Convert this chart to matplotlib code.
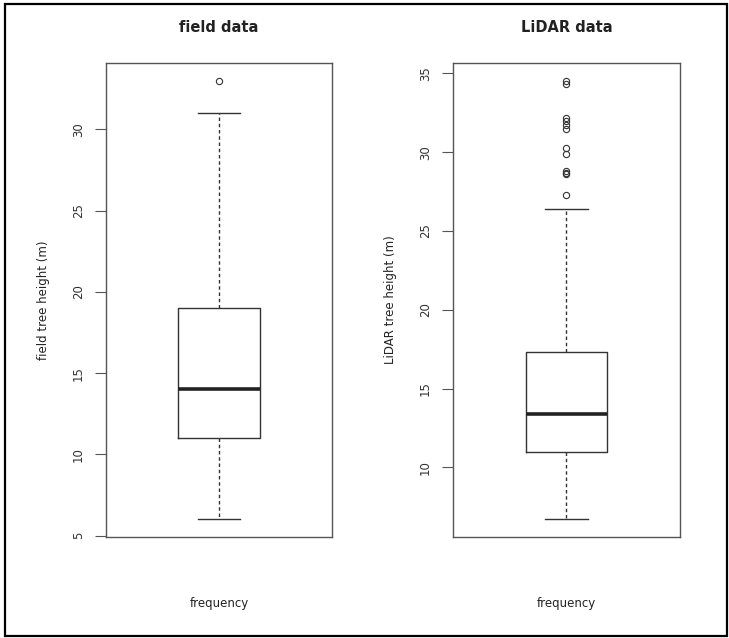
import matplotlib
matplotlib.use("Agg")
from matplotlib import pyplot as plt
from matplotlib.patches import Rectangle

# Box statistics (tree heights in m)
field_stats = {"med": 14.0, "q1": 11.0, "q3": 19.0, "whislo": 6.0, "whishi": 31.0}
field_fliers = [33.0]
lidar_stats = {"med": 13.4, "q1": 11.0, "q3": 17.3, "whislo": 6.7, "whishi": 26.4}
lidar_fliers = [27.3, 28.6, 28.7, 28.8, 29.9, 30.3, 31.5, 31.7, 32.0, 32.2, 34.35, 34.55]

titles = ["field data", "LiDAR data"]
ylabels = ["field tree height (m)", "LiDAR tree height (m)"]
yticks = [[5, 10, 15, 20, 25, 30], [10, 15, 20, 25, 30, 35]]
xlabel = "frequency"

fig = plt.figure(figsize=(7.29, 6.38), dpi=100)

# outer frame
fig.patches.append(Rectangle((5 / 729, 2 / 638), 722 / 729, 632 / 638,
                             transform=fig.transFigure, fill=False,
                             edgecolor="black", linewidth=1.6))

positions = [[106 / 729, 0.1583, 226 / 729, 0.743],
             [453 / 729, 0.1583, 227 / 729, 0.743]]

all_stats = [(field_stats, field_fliers), (lidar_stats, lidar_fliers)]

for i in range(2):
    ax = fig.add_axes(positions[i])
    stats, fliers = all_stats[i]
    st = dict(stats)
    st["fliers"] = fliers
    ax.bxp([st], positions=[1], widths=0.39, capwidths=[0.2],
           showfliers=True, patch_artist=False,
           boxprops=dict(color="#333333", linewidth=1.0),
           medianprops=dict(color="#222222", linewidth=2.6),
           whiskerprops=dict(color="#333333", linewidth=1.0, linestyle=(0, (2.5, 2))),
           capprops=dict(color="#333333", linewidth=1.0),
           flierprops=dict(marker="o", markersize=4.5, markerfacecolor="none",
                           markeredgecolor="#333333", markeredgewidth=0.8))

    lo = min(stats["whislo"], min(fliers))
    hi = max(stats["whishi"], max(fliers))
    pad = (hi - lo) * 0.04
    ax.set_ylim(lo - pad, hi + pad)
    ax.set_xlim(0.46, 1.54)

    ax.set_xticks([])
    ax.set_yticks(yticks[i])
    ax.set_yticklabels([str(t) for t in yticks[i]], rotation=90, va="center",
                       fontsize=8.5, color="#333333")
    ax.tick_params(axis="y", length=8, width=0.8, color="#555555", pad=7)
    for s in ax.spines.values():
        s.set_color("#555555")
        s.set_linewidth(1.0)

    ax.set_ylabel(ylabels[i], fontsize=8.5, color="#222222", labelpad=16)
    ax.set_title(titles[i], fontsize=10.5, fontweight="bold", color="#222222", pad=22)
    ax.set_xlabel(xlabel, fontsize=8.5, color="#222222", labelpad=43)

fig.savefig("out.png", dpi=100)
